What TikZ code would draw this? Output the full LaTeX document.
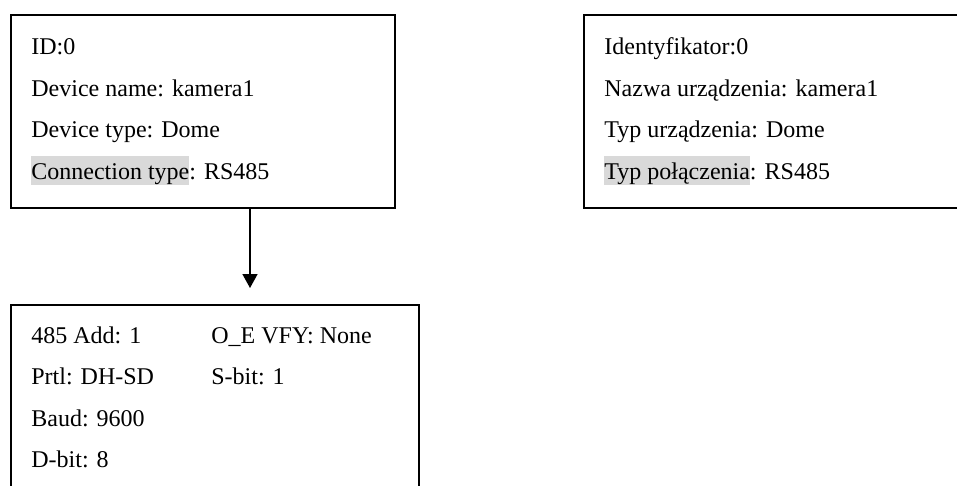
\documentclass[tikz,border=0pt]{standalone}
\usepackage{fontspec}
\setmainfont{Liberation Serif}
\usetikzlibrary{arrows.meta}
\definecolor{hlgray}{HTML}{D9D9D9}
\newcommand\hlt[1]{{\setlength\fboxsep{0pt}\colorbox{hlgray}{\rule[-3pt]{0pt}{14.5pt}#1}}}

\begin{document}
\begin{tikzpicture}[x=0.5pt, y=-0.5pt, box/.style={rectangle, draw, line width=0.8pt, anchor=north west, inner sep=0pt}, txt/.style={anchor=base west, inner sep=0pt, font=\fontsize{12}{14}\selectfont}, >={Triangle[length=7pt,width=7.5pt]}]
        \clip (0,0) rectangle (957,486);
        % Boxes
        \node[box, minimum width=192pt, minimum height=96.5pt] (dev) at (10,14) {};
        \node[box, minimum width=200pt, minimum height=96.5pt] (devpl) at (583,14) {};
        \node[box, minimum width=204pt, minimum height=103pt] (com) at (10,304) {};
        % Text
        \foreach \t [count=\i] in {ID:0, Device name: kamera1, Device type: Dome, \hlt{Connection type}: RS485}
            \node[txt] (en\i) at (31,{55+41.5*(\i-1)}) {\t};
        \foreach \t [count=\i] in {Identyfikator:0, Nazwa urządzenia: kamera1, Typ urządzenia: Dome, \hlt{Typ połączenia}: RS485}
            \node[txt] (pl\i) at (604,{55+41.5*(\i-1)}) {\t};
        \foreach \t [count=\i] in {485 Add: 1, Prtl: DH-SD, Baud: 9600, D-bit: 8}
            \node[txt] (c\i) at (31,{343+41.5*(\i-1)}) {\t};
        \foreach \t [count=\i] in {O\_E VFY: None, S-bit: 1}
            \node[txt] (r\i) at (211,{343+41.5*(\i-1)}) {\t};
        % Arrow
        \coordinate (tip) at (250,288);
        \draw[->, line width=0.8pt] (dev.south -| tip) -- (tip);
    \end{tikzpicture}
\end{document}
